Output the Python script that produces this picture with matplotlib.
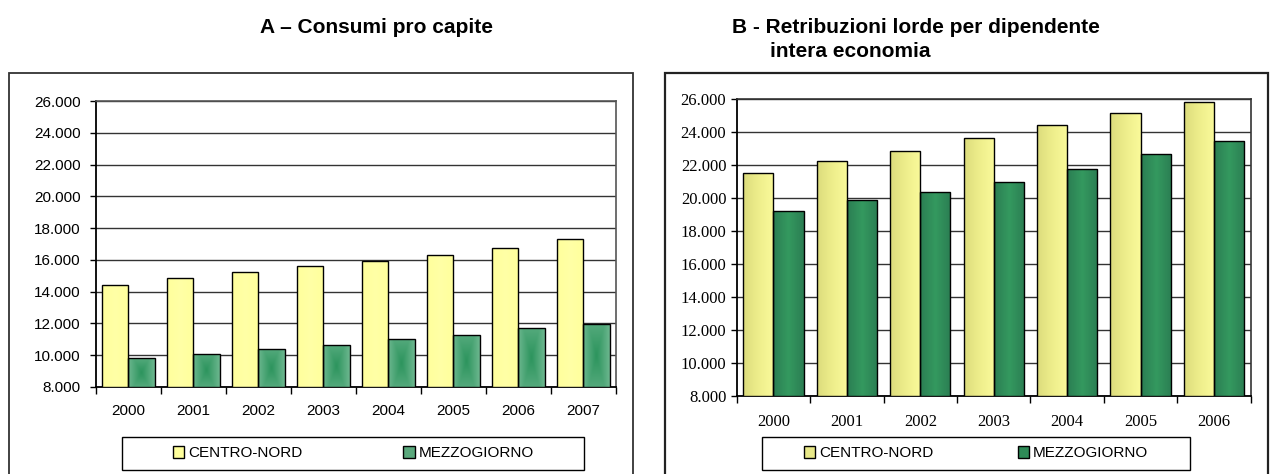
import numpy as np
import matplotlib.pyplot as plt
from matplotlib.colors import LinearSegmentedColormap
from matplotlib.patches import Rectangle, Patch

# Dati
anni_a = ['2000', '2001', '2002', '2003', '2004', '2005', '2006', '2007']
cn_a = [14450, 14880, 15230, 15590, 15940, 16300, 16760, 17290]
mz_a = [9820, 10100, 10370, 10640, 11000, 11250, 11690, 11960]

anni_b = ['2000', '2001', '2002', '2003', '2004', '2005', '2006']
cn_b = [21480, 22240, 22850, 23620, 24390, 25150, 25820]
mz_b = [19180, 19840, 20360, 20950, 21740, 22670, 23440]

serie = ['CENTRO-NORD', 'MEZZOGIORNO']

W, H = 1270, 474
fig = plt.figure(figsize=(12.7, 4.74), dpi=100)


def fmt(v, pos=None):
    return f'{int(v):,}'.replace(',', '.')


def gradient_bars(ax, bars, colors, radial=False):
    # riempie ogni barra con un gradiente
    cmap = LinearSegmentedColormap.from_list('g', colors)
    u = np.linspace(-1, 1, 64)
    if radial:
        uu, vv = np.meshgrid(u, u)
        grad = 1 - np.maximum(np.abs(uu) * 0.9, np.abs(vv) * 0.55)
    else:
        grad = ((u + 1) / 2).reshape(1, -1)
    for b in bars:
        x0, y0 = b.get_x(), b.get_y()
        w, h = b.get_width(), b.get_height()
        im = ax.imshow(grad, cmap=cmap, extent=[x0, x0 + w, y0, y0 + h], vmin=0, vmax=1,
                       aspect='auto', zorder=b.get_zorder() - 0.1, interpolation='bicubic')
        im.set_clip_path(b)
        b.set_facecolor('none')


def draw_chart(ax, anni, cn, mz, colors_cn, colors_mz, radial_mz, font, fsize, ypad, xpad, top_col):
    x = np.arange(len(anni))
    w = 0.41
    b1 = ax.bar(x - w / 2, np.array(cn) - 8000, w, bottom=8000, edgecolor='black', linewidth=1.0, zorder=3)
    b2 = ax.bar(x + w / 2, np.array(mz) - 8000, w, bottom=8000, edgecolor='black', linewidth=1.0, zorder=3)
    gradient_bars(ax, b1, colors_cn)
    gradient_bars(ax, b2, colors_mz, radial=radial_mz)
    ax.set_xlim(-0.5, len(anni) - 0.5)
    ax.set_ylim(8000, 26000)
    ax.set_yticks(range(8000, 26001, 2000))
    ax.yaxis.set_major_formatter(plt.FuncFormatter(fmt))
    ax.set_xticks(x)
    ax.set_xticklabels(anni)
    ax.set_xticks(np.arange(-0.5, len(anni), 1), minor=True)
    ax.tick_params(axis='x', which='major', length=0, pad=xpad)
    ax.tick_params(axis='x', which='minor', length=5, width=1, direction='out')
    ax.tick_params(axis='y', length=4, width=1, direction='out', pad=ypad)
    ax.tick_params(labelsize=fsize, labelfontfamily=font, labelcolor='black')
    ax.yaxis.grid(True, color='#333333', linewidth=1.0, zorder=0)
    ax.set_axisbelow(True)
    for s in ['left', 'bottom']:
        ax.spines[s].set_color('black')
        ax.spines[s].set_linewidth(1.3)
    for s in ['top', 'right']:
        ax.spines[s].set_color(top_col)
        ax.spines[s].set_linewidth(1.2)


# cornici esterne
fig.patches.append(Rectangle((9 / W, -0.01), (633 - 9) / W, (H - 72.5) / H + 0.01,
                             transform=fig.transFigure, fill=False, edgecolor='#333333', linewidth=1.3))
fig.patches.append(Rectangle((665 / W, -0.01), (1268 - 665) / W, (H - 72.5) / H + 0.01,
                             transform=fig.transFigure, fill=False, edgecolor='#222222', linewidth=1.6))

ax1 = fig.add_axes([95.7 / W, (H - 387) / H, (616 - 95.7) / W, (387 - 101) / H])
ax2 = fig.add_axes([736.7 / W, (H - 395.7) / H, (1250.7 - 736.7) / W, (395.7 - 98.7) / H])

draw_chart(ax1, anni_a, cn_a, mz_a, ['#ffff9c', '#ffffa6', '#ffff9c'],
           ['#74bb95', '#2c945d'], True, 'Liberation Sans', 11, 7, 12, '#555555')
draw_chart(ax2, anni_b, cn_b, mz_b, ['#dcdc7c', '#eeee8c', '#fafa9a'],
           ['#2b7e53', '#34995f', '#2b7e53'], False, 'Liberation Serif', 12, 3.5, 13, '#333333')

# legende: cornice e una voce centrata in ogni metà
leg_a = [Patch(facecolor='#ffff9c', edgecolor='black'), Patch(facecolor='#5aa87c', edgecolor='black')]
leg_b = [Patch(facecolor='#e8e888', edgecolor='black'), Patch(facecolor='#2e8b57', edgecolor='black')]
for handles, x0, x1 in [(leg_a, 121.7, 584), (leg_b, 761.7, 1190)]:
    fig.patches.append(Rectangle((x0 / W, (H - 470) / H), (x1 - x0) / W, 33.3 / H,
                                 transform=fig.transFigure, fill=True, facecolor='white',
                                 edgecolor='black', linewidth=1.0))
    half = (x1 - x0) / 2
    for i in range(2):
        cx = x0 + half * (i + 0.5)
        fig.legend([handles[i]], [serie[i]], loc='center', bbox_to_anchor=(cx / W, (H - 453.3) / H),
                   prop={'family': 'Liberation Sans', 'size': 11}, frameon=False,
                   handlelength=0.75, handleheight=0.75, handletextpad=0.25, borderaxespad=0, borderpad=0)

fig.text(260 / W, 1 - 33.3 / H, 'A – Consumi pro capite', ha='left', va='baseline',
         fontsize=15, fontweight='bold', family='Liberation Sans')
fig.text(731.7 / W, 1 - 33.3 / H, 'B - Retribuzioni lorde per dipendente', ha='left', va='baseline',
         fontsize=15, fontweight='bold', family='Liberation Sans')
fig.text(770 / W, 1 - 56.7 / H, 'intera economia', ha='left', va='baseline',
         fontsize=15, fontweight='bold', family='Liberation Sans')

fig.savefig('out.png', dpi=100)
